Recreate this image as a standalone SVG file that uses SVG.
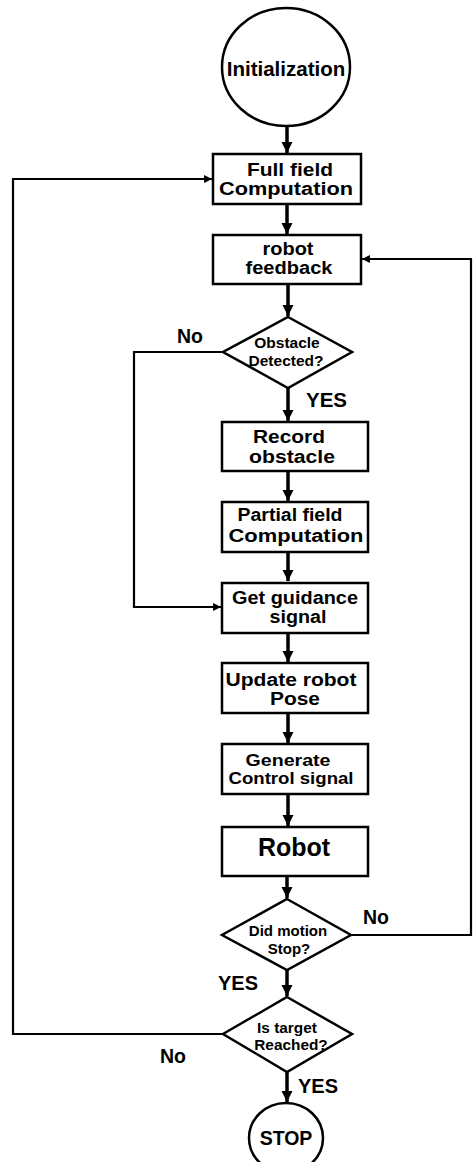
<svg xmlns="http://www.w3.org/2000/svg" width="473" height="1162" viewBox="0 0 473 1162">
<style>
.n{fill:#fff;stroke:#000;stroke-width:2.5}
.t{font-family:"Liberation Sans",Arial,sans-serif;font-weight:bold;fill:#000;text-anchor:middle}
.b{font-size:18px}
.l{font-family:"Liberation Sans",Arial,sans-serif;font-weight:bold;fill:#000}
.v{stroke:#000;stroke-width:3.5;fill:none}
.h{stroke:#000;stroke-width:2.2;fill:none}
</style>
<defs>
<marker id="a" viewBox="0 0 10 10" refX="10" refY="5" markerWidth="3.2" markerHeight="3.2" orient="auto" markerUnits="strokeWidth"><path d="M0,0L10,5L0,10z" fill="#000"/></marker>
<marker id="b" viewBox="0 0 10 10" refX="10" refY="5" markerWidth="3.6" markerHeight="3.6" orient="auto" markerUnits="strokeWidth"><path d="M0,0L10,5L0,10z" fill="#000"/></marker>
</defs>
<rect width="473" height="1162" fill="#fff"/>
<g id="connectors">
<line class="v" x1="287" y1="126" x2="287" y2="153" marker-end="url(#a)"/>
<line class="v" x1="287" y1="204" x2="287" y2="234" marker-end="url(#a)"/>
<line class="v" x1="288" y1="285" x2="288" y2="316" marker-end="url(#a)"/>
<line class="v" x1="288" y1="388" x2="288" y2="421" marker-end="url(#a)"/>
<line class="v" x1="288" y1="471" x2="288" y2="501" marker-end="url(#a)"/>
<line class="v" x1="288" y1="552" x2="288" y2="581" marker-end="url(#a)"/>
<line class="v" x1="288" y1="632" x2="288" y2="662" marker-end="url(#a)"/>
<line class="v" x1="288" y1="713" x2="288" y2="743" marker-end="url(#a)"/>
<line class="v" x1="288" y1="794" x2="288" y2="826" marker-end="url(#a)"/>
<line class="v" x1="287" y1="876" x2="287" y2="898" marker-end="url(#a)"/>
<line class="v" x1="287" y1="970" x2="287" y2="996" marker-end="url(#a)"/>
<line class="v" x1="287" y1="1072" x2="287" y2="1102" marker-end="url(#a)"/>
<polyline class="h" points="223,352 134,352 134,607 221,607" marker-end="url(#b)"/>
<polyline class="h" points="351,935 471,935 471,259 362,259" marker-end="url(#b)"/>
<polyline class="h" points="223,1034 13,1034 13,179 212,179" marker-end="url(#b)"/>
</g>
<g id="init"><ellipse class="n" cx="286" cy="67" rx="64" ry="59"/><text class="t" x="286" y="76" font-size="20.5">Initialization</text></g>
<g id="full"><rect class="n" x="213" y="154" width="148" height="50"/><text class="t b" x="290" y="176" textLength="86" lengthAdjust="spacingAndGlyphs">Full field</text><text class="t b" x="286" y="195" textLength="134" lengthAdjust="spacingAndGlyphs">Computation</text></g>
<g id="feedback"><rect class="n" x="213" y="235" width="148" height="49"/><text class="t b" x="288" y="255" textLength="51" lengthAdjust="spacingAndGlyphs">robot</text><text class="t b" x="289" y="274" textLength="87" lengthAdjust="spacingAndGlyphs">feedback</text></g>
<g id="obstacle"><polygon class="n" points="288,317 352,352 288,388 223,352"/><text class="t" x="287" y="348" font-size="15.5">Obstacle</text><text class="t" x="286" y="366" font-size="15.5">Detected?</text></g>
<g id="record"><rect class="n" x="222" y="422" width="146" height="49"/><text class="t b" x="289" y="443" textLength="72" lengthAdjust="spacingAndGlyphs">Record</text><text class="t b" x="292" y="463" textLength="86" lengthAdjust="spacingAndGlyphs">obstacle</text></g>
<g id="partial"><rect class="n" x="222" y="502" width="146" height="50"/><text class="t b" x="290" y="521" textLength="105" lengthAdjust="spacingAndGlyphs">Partial field</text><text class="t b" x="296" y="542" textLength="135" lengthAdjust="spacingAndGlyphs">Computation</text></g>
<g id="guidance"><rect class="n" x="222" y="583" width="146" height="50"/><text class="t b" x="295" y="604" textLength="126" lengthAdjust="spacingAndGlyphs">Get guidance</text><text class="t b" x="298" y="623" textLength="57" lengthAdjust="spacingAndGlyphs">signal</text></g>
<g id="pose"><rect class="n" x="222" y="663" width="146" height="50"/><text class="t b" x="291" y="686" textLength="131" lengthAdjust="spacingAndGlyphs">Update robot</text><text class="t b" x="295" y="705" textLength="50" lengthAdjust="spacingAndGlyphs">Pose</text></g>
<g id="control"><rect class="n" x="222" y="744" width="146" height="50"/><text class="t" x="288" y="766" font-size="17" textLength="85" lengthAdjust="spacingAndGlyphs">Generate</text><text class="t" x="291" y="784" font-size="17" textLength="125" lengthAdjust="spacingAndGlyphs">Control signal</text></g>
<g id="robot"><rect class="n" x="222" y="827" width="146" height="49"/><text class="t" x="294" y="856" font-size="25">Robot</text></g>
<g id="motion"><polygon class="n" points="287,899 351,935 287,970 222,935"/><text class="t" x="288" y="936" font-size="15">Did motion</text><text class="t" x="289" y="954" font-size="15">Stop?</text></g>
<g id="target"><polygon class="n" points="287,997 352,1034 287,1072 223,1034"/><text class="t" x="287" y="1033" font-size="15.4">Is target</text><text class="t" x="291" y="1050" font-size="15.4">Reached?</text></g>
<g id="stop"><ellipse class="n" cx="286" cy="1138" rx="37" ry="35"/><text class="t" x="286" y="1145" font-size="19.5">STOP</text></g>
<g id="labels">
<text class="l" x="177" y="343" font-size="19.5">No</text>
<text class="l" x="306" y="407" font-size="20.5">YES</text>
<text class="l" x="363" y="924" font-size="19.5">No</text>
<text class="l" x="218" y="990" font-size="20">YES</text>
<text class="l" x="160" y="1063" font-size="19.5">No</text>
<text class="l" x="298" y="1093" font-size="20">YES</text>
</g>
</svg>
